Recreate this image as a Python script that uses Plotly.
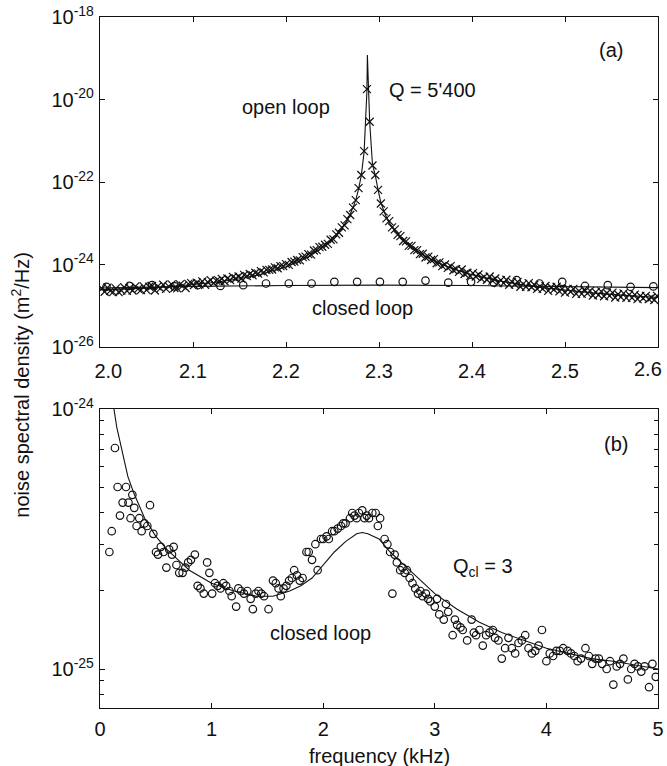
import plotly.graph_objects as go

# ---------------- panel (a) data ----------------
open_freq_khz = [
    2.002,2.005,2.008,2.011,2.014,2.017,2.020,2.023,2.026,2.029,
    2.032,2.035,2.038,2.041,2.044,2.047,2.050,2.053,2.056,2.059,
    2.062,2.065,2.068,2.071,2.074,2.077,2.080,2.083,2.086,2.089,
    2.092,2.095,2.098,2.101,2.104,2.107,2.110,2.113,2.116,2.119,
    2.122,2.125,2.128,2.131,2.134,2.137,2.140,2.143,2.146,2.149,
    2.152,2.155,2.158,2.161,2.164,2.167,2.170,2.173,2.176,2.179,
    2.182,2.185,2.188,2.191,2.194,2.197,2.200,2.203,2.206,2.209,
    2.212,2.215,2.218,2.221,2.224,2.227,2.230,2.233,2.236,2.239,
    2.242,2.245,2.248,2.251,2.254,2.257,2.260,2.263,2.266,2.269,
    2.272,2.275,2.278,2.281,2.284,2.287,2.290,2.293,2.296,2.299,
    2.302,2.305,2.308,2.311,2.314,2.317,2.320,2.323,2.326,2.329,
    2.332,2.335,2.338,2.341,2.344,2.347,2.350,2.353,2.356,2.359,
    2.362,2.365,2.368,2.371,2.374,2.377,2.380,2.383,2.386,2.389,
    2.392,2.395,2.398,2.401,2.404,2.407,2.410,2.413,2.416,2.419,
    2.422,2.425,2.428,2.431,2.434,2.437,2.440,2.443,2.446,2.449,
    2.452,2.455,2.458,2.461,2.464,2.467,2.470,2.473,2.476,2.479,
    2.482,2.485,2.488,2.491,2.494,2.497,2.500,2.503,2.506,2.509,
    2.512,2.515,2.518,2.521,2.524,2.527,2.530,2.533,2.536,2.539,
    2.542,2.545,2.548,2.551,2.554,2.557,2.560,2.563,2.566,2.569,
    2.572,2.575,2.578,2.581,2.584,2.587,2.590,2.593,2.596,2.599,
]
open_psd_log10 = [
    -24.58,-24.66,-24.56,-24.64,-24.67,-24.58,-24.67,-24.63,-24.55,-24.64,
    -24.57,-24.63,-24.53,-24.59,-24.62,-24.53,-24.62,-24.54,-24.52,-24.63,
    -24.53,-24.58,-24.49,-24.59,-24.53,-24.48,-24.57,-24.58,-24.48,-24.51,
    -24.57,-24.47,-24.45,-24.50,-24.44,-24.48,-24.41,-24.49,-24.43,-24.38,
    -24.45,-24.39,-24.40,-24.35,-24.41,-24.34,-24.38,-24.30,-24.34,-24.29,
    -24.34,-24.25,-24.28,-24.23,-24.26,-24.20,-24.22,-24.16,-24.19,-24.13,
    -24.13,-24.12,-24.07,-24.09,-24.04,-24.04,-23.99,-24.01,-23.94,-23.93,
    -23.89,-23.90,-23.82,-23.81,-23.75,-23.76,-23.66,-23.65,-23.58,-23.57,
    -23.52,-23.50,-23.40,-23.39,-23.27,-23.23,-23.10,-23.05,-22.90,-22.80,
    -22.62,-22.44,-22.15,-21.83,-21.25,-19.75,-20.54,-21.60,-21.83,-22.19,
    -22.52,-22.71,-22.88,-22.95,-23.10,-23.15,-23.28,-23.31,-23.43,-23.44,
    -23.55,-23.55,-23.65,-23.65,-23.75,-23.74,-23.83,-23.81,-23.89,-23.87,
    -23.97,-23.95,-24.04,-24.00,-24.08,-24.04,-24.14,-24.11,-24.18,-24.12,
    -24.23,-24.20,-24.28,-24.21,-24.29,-24.24,-24.35,-24.30,-24.37,-24.29,
    -24.39,-24.34,-24.45,-24.38,-24.45,-24.37,-24.49,-24.42,-24.48,-24.42,
    -24.54,-24.47,-24.54,-24.45,-24.55,-24.49,-24.59,-24.53,-24.59,-24.52,
    -24.64,-24.55,-24.61,-24.54,-24.65,-24.59,-24.68,-24.59,-24.66,-24.59,
    -24.71,-24.64,-24.71,-24.61,-24.70,-24.64,-24.75,-24.67,-24.74,-24.65,
    -24.77,-24.69,-24.76,-24.68,-24.80,-24.72,-24.79,-24.70,-24.81,-24.73,
    -24.81,-24.73,-24.84,-24.76,-24.82,-24.76,-24.84,-24.80,-24.86,-24.76,
]
open_fit_freq_khz = [
    2.000,2.025,2.050,2.075,2.100,2.125,2.150,2.175,2.200,2.220,2.235,2.250,
    2.260,2.266,2.272,2.275,2.278,2.281,2.284,2.2865,2.287,2.2875,2.2885,
    2.290,2.293,2.296,2.299,2.302,2.306,2.310,2.315,2.325,2.340,2.355,2.375,
    2.400,2.425,2.450,2.475,2.500,2.525,2.550,2.575,2.600,
]
open_fit_log10 = [
    -24.615,-24.597,-24.572,-24.539,-24.494,-24.431,-24.346,-24.226,-24.056,-23.862,-23.662,-23.385,
    -23.122,-22.93,-22.62,-22.44,-22.17,-21.84,-21.27,-20.20,-19.80,-18.92,-19.80,
    -20.55,-21.58,-21.84,-22.19,-22.50,-22.75,-22.95,-23.122,-23.386,-23.665,-23.867,-24.066,
    -24.246,-24.379,-24.480,-24.559,-24.623,-24.677,-24.723,-24.763,-24.798,
]
closed_a_freq_khz = [
    2.007,2.0315,2.056,2.0805,2.105,2.1295,2.154,2.1785,2.203,2.2275,2.252,2.2765,
    2.301,2.3255,2.350,2.3745,2.399,2.4235,2.448,2.4725,2.497,2.5215,2.546,2.5705,2.595,
]
closed_a_log10 = [
    -24.54,-24.52,-24.50,-24.53,-24.50,-24.52,-24.50,-24.46,-24.46,-24.46,-24.42,-24.42,
    -24.42,-24.42,-24.39,-24.44,-24.42,-24.44,-24.38,-24.46,-24.42,-24.52,-24.50,-24.54,-24.53,
]
closed_a_fit_freq_khz = [2.0, 2.1, 2.2, 2.3, 2.4, 2.5, 2.6]
closed_a_fit_log10 = [-24.57, -24.53, -24.51, -24.50, -24.51, -24.53, -24.56]

# ---------------- panel (b) data ----------------
closed_b_freq_khz = [
    0.084,0.105,0.134,0.158,0.179,0.203,0.233,0.255,0.274,0.290,0.307,0.328,0.352,0.373,0.398,
    0.424,0.448,0.478,0.502,0.520,0.545,0.570,0.595,0.620,0.645,0.660,0.685,0.710,0.740,0.765,
    0.790,0.815,0.850,0.875,0.900,0.930,0.960,0.980,1.005,1.030,1.055,1.080,1.105,1.130,1.160,
    1.180,1.220,1.240,1.265,1.290,1.320,1.350,1.370,1.395,1.420,1.445,1.470,1.510,1.550,1.575,
    1.600,1.620,1.645,1.670,1.695,1.720,1.740,1.765,1.790,1.815,1.850,1.870,1.900,1.930,1.950,
    1.980,2.000,2.030,2.050,2.080,2.100,2.130,2.160,2.180,2.200,2.240,2.260,2.280,2.300,2.320,
    2.350,2.370,2.390,2.410,2.440,2.470,2.490,2.510,2.550,2.575,2.600,2.620,2.640,2.660,2.690,
    2.710,2.730,2.750,2.775,2.800,2.825,2.850,2.870,2.890,2.920,2.940,2.960,3.000,3.020,3.040,
    3.080,3.100,3.120,3.160,3.180,3.200,3.230,3.250,3.290,3.330,3.350,3.370,3.400,3.430,3.460,
    3.490,3.520,3.540,3.570,3.600,3.630,3.660,3.690,3.720,3.750,3.780,3.810,3.840,3.870,3.900,
    3.930,3.960,4.000,4.030,4.060,4.090,4.120,4.150,4.190,4.220,4.250,4.280,4.310,4.350,4.380,
    4.410,4.440,4.470,4.500,4.540,4.570,4.600,4.630,4.660,4.690,4.730,4.760,4.790,4.820,4.850,
    4.880,4.920,4.950,4.980,
]
closed_b_log10 = [
    -24.55,-24.47,-24.15,-24.30,-24.41,-24.36,-24.30,-24.36,-24.42,-24.33,-24.38,-24.45,-24.42,-24.47,-24.44,
    -24.45,-24.37,-24.48,-24.55,-24.56,-24.53,-24.55,-24.61,-24.54,-24.56,-24.53,-24.60,-24.63,-24.63,-24.61,
    -24.59,-24.58,-24.56,-24.68,-24.69,-24.71,-24.59,-24.63,-24.71,-24.67,-24.68,-24.69,-24.67,-24.68,-24.70,
    -24.72,-24.76,-24.69,-24.70,-24.71,-24.70,-24.73,-24.77,-24.71,-24.70,-24.71,-24.72,-24.77,-24.66,-24.67,
    -24.69,-24.72,-24.69,-24.68,-24.66,-24.65,-24.62,-24.64,-24.66,-24.65,-24.55,-24.55,-24.58,-24.52,-24.62,
    -24.50,-24.50,-24.49,-24.50,-24.47,-24.47,-24.46,-24.45,-24.44,-24.44,-24.42,-24.40,-24.41,-24.42,-24.40,
    -24.39,-24.42,-24.41,-24.42,-24.40,-24.40,-24.45,-24.42,-24.50,-24.52,-24.55,-24.71,-24.56,-24.59,-24.62,
    -24.61,-24.63,-24.62,-24.65,-24.67,-24.69,-24.71,-24.70,-24.72,-24.71,-24.73,-24.74,-24.76,-24.73,-24.79,
    -24.81,-24.75,-24.78,-24.87,-24.81,-24.83,-24.84,-24.85,-24.89,-24.81,-24.86,-24.87,-24.85,-24.91,-24.87,
    -24.86,-24.85,-24.88,-24.89,-24.96,-24.92,-24.88,-24.92,-24.94,-24.90,-24.89,-24.87,-24.92,-24.94,-24.93,
    -24.91,-24.85,-24.97,-24.94,-24.95,-24.93,-24.93,-24.92,-24.93,-24.94,-24.95,-24.97,-24.96,-24.92,-24.95,
    -24.98,-24.96,-24.96,-24.98,-25.00,-24.97,-25.06,-24.99,-24.98,-24.96,-25.04,-25.00,-24.98,-24.99,-25.01,
    -24.99,-25.07,-24.98,-25.03,
]
closed_b_fit_freq_khz = [
    0.09,0.11,0.125,0.15,0.2,0.25,0.3,0.4,0.5,0.6,0.7,0.8,1.0,1.2,1.4,1.55,1.7,1.8,1.9,
    2.0,2.1,2.2,2.3,2.35,2.4,2.5,2.6,2.7,2.8,2.9,3.0,3.2,3.4,3.6,3.8,4.0,4.2,4.4,4.6,4.8,5.0,
]
closed_b_fit_log10 = [
    -23.80,-23.94,-24.00,-24.07,-24.17,-24.26,-24.32,-24.42,-24.49,-24.54,-24.58,-24.62,-24.67,-24.70,-24.72,-24.72,-24.70,-24.68,-24.65,
    -24.60,-24.55,-24.51,-24.48,-24.475,-24.48,-24.50,-24.55,-24.59,-24.63,-24.67,-24.71,-24.77,-24.82,-24.86,-24.89,-24.92,-24.94,-24.96,-24.97,-24.985,-25.00,
]

# tick labels (the end label 2.6 is placed a little inward, as in the original)
top_x_ticks = [2.0, 2.1, 2.2, 2.3, 2.4, 2.5, 2.6]
top_x_labels = ["&nbsp;&nbsp;&nbsp;2.0", "2.1", "2.2", "2.3", "2.4", "2.5", ""]
top_x_end_label = "2.6"
top_y_exponents = [-26, -24, -22, -20, -18]
bot_x_ticks = [0, 1, 2, 3, 4, 5]
bot_x_labels = ["0", "1", "2", "3", "4", "5"]
bot_y_exponents = [-25, -24]
bot_y_minor = [8e-26, 9e-26, 2e-25, 3e-25, 4e-25, 5e-25, 6e-25, 7e-25, 8e-25, 9e-25]


def pw(vals):
    return [10 ** v for v in vals]


FONT = "Liberation Sans, Arial, Helvetica, sans-serif"
BLACK = "#111111"

fig = go.Figure()

# panel (a)
fig.add_trace(go.Scatter(x=open_fit_freq_khz, y=pw(open_fit_log10), mode="lines",
                         line=dict(color=BLACK, width=1.1), xaxis="x", yaxis="y"))
fig.add_trace(go.Scatter(x=closed_a_fit_freq_khz, y=pw(closed_a_fit_log10), mode="lines",
                         line=dict(color=BLACK, width=1.1), xaxis="x", yaxis="y"))
fig.add_trace(go.Scatter(x=open_freq_khz, y=pw(open_psd_log10), mode="markers",
                         marker=dict(symbol="x-thin", size=8, color=BLACK,
                                     line=dict(color=BLACK, width=1.2)),
                         xaxis="x", yaxis="y"))
fig.add_trace(go.Scatter(x=closed_a_freq_khz, y=pw(closed_a_log10), mode="markers",
                         marker=dict(symbol="circle-open", size=7.5, color=BLACK,
                                     line=dict(width=1.2)),
                         xaxis="x", yaxis="y"))

# panel (b)
fig.add_trace(go.Scatter(x=closed_b_fit_freq_khz, y=pw(closed_b_fit_log10), mode="lines",
                         line=dict(color=BLACK, width=1.1), xaxis="x2", yaxis="y2"))
fig.add_trace(go.Scatter(x=closed_b_freq_khz, y=pw(closed_b_log10), mode="markers",
                         marker=dict(symbol="circle-open", size=7.5, color=BLACK,
                                     line=dict(width=1.2)),
                         xaxis="x2", yaxis="y2"))

axis_common = dict(showline=True, linecolor=BLACK, linewidth=1.2, mirror="ticks",
                   ticks="inside", ticklen=5, tickwidth=1, tickcolor=BLACK,
                   showgrid=False, zeroline=False, fixedrange=True, automargin=False,
                   tickfont=dict(family=FONT, size=20, color=BLACK))

fig.update_layout(
    template="none",
    width=667, height=766,
    margin=dict(l=100, r=9, t=17, b=58, autoexpand=False),
    paper_bgcolor="white", plot_bgcolor="white",
    showlegend=False,
    xaxis=dict(domain=[0, 1], anchor="y", range=[2.0, 2.6],
               tickmode="array", tickvals=top_x_ticks, ticktext=top_x_labels,
               ticklabelstandoff=6, **axis_common),
    yaxis=dict(domain=[0.5224, 1], anchor="x", type="log", range=[-26, -18],
               tickmode="array", tickvals=[10 ** e for e in top_y_exponents],
               ticktext=["10<sup>%d</sup>" % e for e in top_y_exponents],
               ticklabelstandoff=1, **axis_common),
    xaxis2=dict(domain=[0, 1], anchor="y2", range=[0, 5],
                tickmode="array", tickvals=bot_x_ticks, ticktext=bot_x_labels,
                ticklabelstandoff=3, **axis_common),
    yaxis2=dict(domain=[0, 0.4327], anchor="x2", type="log", range=[-25.15, -24.0],
                tickmode="array", tickvals=[10 ** e for e in bot_y_exponents],
                ticktext=["10<sup>%d</sup>" % e for e in bot_y_exponents],
                minor=dict(tickmode="array", tickvals=bot_y_minor, ticks="inside",
                           ticklen=4, tickcolor=BLACK, showgrid=False),
                ticklabelstandoff=1, **axis_common),
)

txt = dict(family=FONT, size=20, color=BLACK)
ctr = dict(showarrow=False, font=txt, xanchor="center", yanchor="middle")
ann = [
    dict(x=2.549, y=-18.8, xref="x", yref="y", text="(a)", **ctr),
    dict(x=2.3086, y=-19.78, xref="x", yref="y", text="Q = 5'400", showarrow=False,
         font=txt, xanchor="left", yanchor="middle"),
    dict(x=2.20, y=-20.18, xref="x", yref="y", text="open loop", **ctr),
    dict(x=2.282, y=-25.05, xref="x", yref="y", text="closed loop", **ctr),
    dict(x=4.62, y=-24.136, xref="x2", yref="y2", text="(b)", **ctr),
    dict(x=3.43, y=-24.61, xref="x2", yref="y2", text="Q<sub>cl</sub> = 3", **ctr),
    dict(x=1.98, y=-24.86, xref="x2", yref="y2", text="closed loop", **ctr),
    dict(x=0.982, y=0.4906, xref="paper", yref="paper", text=top_x_end_label, **ctr),
    dict(x=-0.142, y=0.4675, xref="paper", yref="paper",
         text="noise spectral density (m<sup>2</sup>/Hz)", textangle=-90, **ctr),
    dict(x=0.5, y=-0.0695, xref="paper", yref="paper", text="frequency (kHz)", **ctr),
]
fig.update_layout(annotations=ann)

fig.write_html("out.html", config={"displayModeBar": False},
               post_script="document.body.style.margin='0px';")
